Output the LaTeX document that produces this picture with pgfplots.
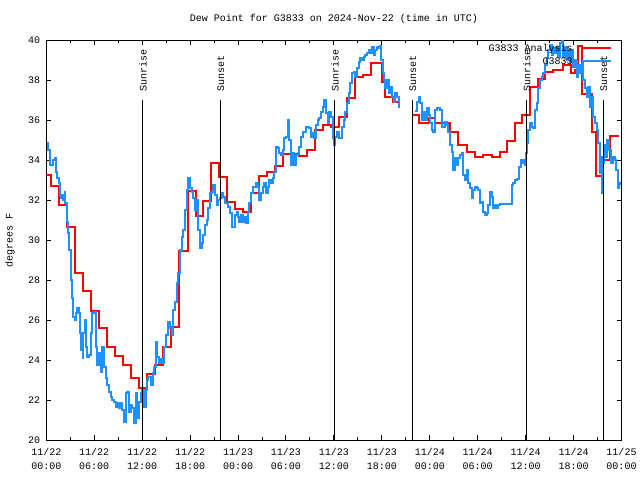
\documentclass[border=0pt]{standalone}
\usepackage{fontspec}
\setmainfont{Liberation Mono}
\usepackage{pgfplots}
\pgfplotsset{compat=1.18}
\usetikzlibrary{backgrounds}
\definecolor{obsblue}{RGB}{30,144,255}
\definecolor{anared}{RGB}{255,0,0}
\begin{document}
\begin{tikzpicture}[font=\fontsize{7.5}{10.5}\selectfont]
\begin{axis}[name=ax, scale only axis, width=431.4pt, height=300pt,
 xmin=0, xmax=72, ymin=20, ymax=40,
 xtick={0,6,...,72},
 xticklabels={{11/22\\00:00},{11/22\\06:00},{11/22\\12:00},{11/22\\18:00},{11/23\\00:00},{11/23\\06:00},{11/23\\12:00},{11/23\\18:00},{11/24\\00:00},{11/24\\06:00},{11/24\\12:00},{11/24\\18:00},{11/25\\00:00}},
 minor x tick num=1,
 ytick={20,22,...,40},
 tick align=inside, major tick length=3.75pt, minor tick length=2.25pt,
 axis line style={line width=0.75pt},
 tick style={black, line width=0.75pt},
 /pgf/number format/assume math mode=true,
 xticklabel style={align=center, inner sep=0pt, anchor=north, yshift=-6pt},
 yticklabel style={inner sep=0pt, anchor=east, xshift=-4.5pt},
 legend cell align=right,
 legend plot pos=right,
 legend style={at={(1,1)}, anchor=north east, xshift=-7.2pt, yshift=-3pt, draw=none, fill=none, inner sep=0pt,
   column sep=6.6pt, row sep=3.5pt,
   nodes={inner sep=0pt, text height=5.25pt, text depth=1.5pt}},
 legend image code/.code={\draw[#1] (0pt,0.9pt) -- (21.2pt,0.9pt);},
 every axis plot/.append style={line width=1.5pt},
]
\addplot[anared, const plot mark left] coordinates {(0,33.27)(0.55,32.69)(1.59,31.73)(2.59,30.63)(3.59,28.33)(4.59,27.43)(5.59,26.43)(6.59,25.58)(7.59,24.63)(8.59,24.18)(9.59,23.73)(10.59,23.10)(11.6,22.58)(12.6,23.28)(13.6,23.73)(14.6,24.63)(15.6,25.63)(16.6,29.43)(17.7,32.43)(18.8,31.18)(19.6,31.93)(20.6,33.83)(21.6,33.13)(22.6,31.88)(23.6,31.55)(24.6,31.42)(25.6,32.33)(26.6,33.2)(27.6,33.38)(28.6,33.72)(29.6,34.28)(31.6,34.2)(32.6,34.5)(33.6,35.5)(34.6,35.75)(35.6,35.63)(36.6,36.17)(37.6,37.08)(38.6,38.17)(39.6,38.25)(40.6,38.87)(41.97,37.9)(42.4,37.17)(43.45,36.9)(44.14,36.8)};
\addlegendentry{G3833 Analysis}
\addplot[anared, const plot mark left, forget plot] coordinates {(45.83,36.25)(46.65,35.85)(47.86,36.1)(48.65,35.83)(50.53,35.38)(51.57,34.75)(52.62,34.42)(53.66,34.13)(54.7,34.23)(55.75,34.13)(56.79,34.42)(57.7,34.97)(58.66,35.83)(59.58,36.25)(60.54,37.67)(61.54,38.03)(62.42,38.4)(63.42,38.5)(64.67,38.75)(65.67,38.33)(66.17,38.5)(66.6,39.7)(67.04,37.28)(68.29,35.4)(68.79,33.2)(69.54,34.0)(70.54,35.2)(71.67,35.2)};
\addplot[obsblue, const plot mark left] coordinates {(0.05,34.83)(0.21,34.5)(0.46,33.75)(0.75,33.75)(0.88,34.0)(1.05,34.08)(1.18,33.42)(1.38,33.08)(1.59,32.83)(1.71,32.25)(1.88,32.08)(2.05,32.25)(2.13,32.0)(2.30,32.42)(2.38,31.83)(2.55,30.92)(2.72,30.33)(2.84,29.5)(3.05,28.0)(3.25,27.08)(3.38,26.17)(3.55,26.0)(3.72,26.33)(3.88,26.58)(4.05,26.33)(4.22,25.33)(4.38,24.5)(4.56,24.08)(4.63,25.33)(4.81,26.0)(4.93,24.67)(5.06,24.17)(5.31,24.25)(5.56,25.33)(5.76,26.33)(5.97,26.42)(6.18,24.67)(6.38,23.75)(6.60,24.33)(6.81,23.38)(7.01,24.67)(7.22,23.67)(7.43,23.08)(7.63,22.75)(7.85,22.42)(8.06,22.17)(8.26,22.0)(8.47,21.92)(8.69,21.67)(8.89,21.83)(9.10,21.58)(9.31,21.83)(9.51,21.5)(9.72,20.92)(9.94,22.33)(10.14,22.42)(10.35,21.42)(10.56,21.75)(10.76,21.58)(10.98,20.83)(11.19,22.33)(11.39,21.08)(11.60,21.92)(11.81,22.33)(12.01,22.5)(12.23,21.67)(12.44,22.5)(12.64,23.0)(12.77,23.17)(13.07,22.75)(13.32,23.33)(13.48,23.67)(13.73,24.92)(13.89,24.17)(14.14,23.83)(14.32,24.03)(14.57,23.83)(14.73,24.67)(14.98,25.25)(15.27,25.92)(15.48,25.58)(15.69,25.25)(15.89,26.5)(16.11,26.92)(16.32,27.83)(16.52,28.33)(16.73,29.5)(16.95,30.17)(17.15,30.5)(17.36,31.5)(17.57,32.5)(17.77,33.08)(17.98,32.58)(18.2,32.42)(18.4,32.08)(18.61,31.5)(18.82,32.0)(19.02,30.5)(19.24,29.58)(19.45,29.83)(19.65,30.25)(19.86,30.75)(20.08,31.0)(20.28,31.58)(20.49,32.33)(20.7,32.42)(20.9,32.75)(21.11,32.25)(21.33,31.75)(21.53,32.0)(21.74,32.08)(21.95,32.33)(22.15,32.17)(22.37,31.83)(22.58,31.83)(22.78,31.67)(22.99,31.33)(23.2,30.67)(23.4,30.67)(23.62,31.25)(23.83,31.4)(23.99,31.17)(24.16,30.92)(24.37,31.25)(24.58,30.92)(24.78,31.17)(24.99,30.83)(25.21,31.42)(25.41,31.83)(25.62,32.33)(25.83,32.67)(26.03,32.67)(26.25,32.83)(26.46,32.67)(26.66,32.0)(26.87,32.33)(27.08,32.67)(27.28,32.83)(27.5,32.33)(27.71,32.67)(27.91,33.0)(28.12,32.83)(28.34,33.08)(28.54,33.42)(28.75,34.67)(28.96,34.58)(29.16,34.33)(29.37,34.25)(29.59,34.5)(29.79,35.08)(30.0,35.17)(30.21,36.0)(30.41,35.0)(30.63,33.75)(30.84,34.33)(31.04,33.75)(31.25,34.25)(31.46,34.33)(31.66,34.67)(31.88,35.17)(32.09,35.42)(32.5,35.63)(32.92,35.58)(33.13,35.17)(33.34,35.33)(33.54,35.08)(33.75,35.75)(33.97,36.0)(34.17,36.08)(34.38,36.42)(34.59,36.67)(34.79,37.0)(35.01,36.33)(35.22,35.83)(35.42,36.42)(35.63,36.17)(35.85,35.67)(35.92,35.08)(36.04,34.75)(36.17,35.17)(36.38,35.42)(36.6,35.08)(37.01,35.67)(37.22,36.0)(37.42,36.42)(37.63,36.83)(37.85,37.33)(38.05,37.83)(38.26,38.33)(38.47,38.42)(38.67,38.17)(38.89,38.58)(39.1,38.92)(39.3,39.08)(39.51,39.0)(39.72,39.17)(39.92,39.25)(40.14,39.33)(40.35,39.5)(40.55,39.33)(40.76,39.67)(40.98,39.25)(41.18,39.5)(41.39,39.67)(41.6,39.58)(41.8,39.7)(41.93,39.0)(42.1,38.33)(42.26,38.0)(42.43,37.58)(42.64,38.0)(42.85,37.33)(43.05,37.67)(43.27,37.17)(43.48,36.92)(43.68,37.33)(43.89,37.17)(44.1,36.58)};
\addlegendentry{G3833}
\addplot[obsblue, const plot mark left, forget plot] coordinates {(46.18,36.45)(46.4,36.92)(46.61,37.17)(46.81,36.83)(47.02,36.0)(47.23,36.42)(47.43,36.0)(47.65,36.58)(47.86,36.25)(48.06,35.83)(48.27,35.5)(48.44,35.42)(48.65,36.5)(48.86,36.58)(49.27,36.5)(49.48,35.67)(49.68,35.67)(49.9,35.92)(50.11,35.75)(50.31,35.42)(50.53,34.75)(50.74,34.42)(50.94,33.5)(51.15,34.08)(51.36,33.75)(51.56,34.08)(51.78,34.25)(51.99,34.33)(52.19,33.25)(52.4,33.0)(52.62,33.5)(52.82,32.83)(53.03,32.58)(53.24,32.08)(53.44,32.5)(53.65,32.67)(53.87,32.58)(54.07,32.5)(54.28,31.83)(54.49,31.92)(54.69,31.42)(54.9,31.25)(55.12,31.33)(55.32,31.75)(55.53,32.42)(55.74,32.17)(55.94,31.58)(56.16,31.75)(56.37,31.58)(56.57,31.75)(56.78,31.8)(58.03,31.8)(58.24,32.75)(58.44,32.83)(58.66,33.0)(58.95,33.03)(59.2,33.67)(59.37,34.0)(59.54,33.83)(59.7,34.0)(59.91,33.75)(60.04,34.33)(60.12,34.83)(60.33,35.5)(60.54,35.83)(60.75,35.67)(60.95,35.58)(61.16,36.5)(61.38,36.83)(61.58,37.58)(61.79,38.0)(62.0,38.17)(62.2,38.33)(62.41,38.75)(62.63,39.08)(62.83,39.5)(63.04,39.75)(63.25,39.25)(63.45,39.58)(63.67,39.33)(63.88,39.67)(64.08,39.17)(64.29,39.83)(64.5,40.2)(64.71,39.17)(64.92,39.67)(65.13,39.0)(65.33,39.5)(65.54,38.92)(65.76,39.5)(65.96,38.67)(66.17,39.0)(66.38,38.17)(66.58,38.75)(66.8,38.33)(67.01,38.83)(67.21,38.0)(67.42,37.58)(67.63,37.17)(67.83,37.67)(68.05,36.67)(68.26,37.17)(68.46,36.17)(68.67,35.83)(68.88,35.5)(69.08,34.83)(69.3,33.33)(69.42,34.17)(69.51,32.33)(69.64,33.83)(69.8,34.75)(70.05,34.17)(70.22,35.0)(70.47,34.5)(70.65,33.83)(70.9,34.17)(71.2,34.0)(71.33,33.5)(71.52,32.58)(71.65,32.83)(71.87,32.75)};
% sunrise / sunset markers
\draw[black, line width=0.75pt] (axis cs:12.02,20) -- (axis cs:12.02,37);
\draw[black, line width=0.75pt] (axis cs:21.78,20) -- (axis cs:21.78,37);
\draw[black, line width=0.75pt] (axis cs:36.05,20) -- (axis cs:36.05,37);
\draw[black, line width=0.75pt] (axis cs:45.81,20) -- (axis cs:45.81,37);
\draw[black, line width=0.75pt] (axis cs:60.08,20) -- (axis cs:60.08,37);
\draw[black, line width=0.75pt] (axis cs:69.71,20) -- (axis cs:69.71,37);
\node[rotate=90, anchor=west, inner sep=0pt] at (axis cs:12.10,37.4) {Sunrise};
\node[rotate=90, anchor=west, inner sep=0pt] at (axis cs:21.86,37.4) {Sunset};
\node[rotate=90, anchor=west, inner sep=0pt] at (axis cs:36.13,37.4) {Sunrise};
\node[rotate=90, anchor=west, inner sep=0pt] at (axis cs:45.89,37.4) {Sunset};
\node[rotate=90, anchor=west, inner sep=0pt] at (axis cs:60.16,37.4) {Sunrise};
\node[rotate=90, anchor=west, inner sep=0pt] at (axis cs:69.79,37.4) {Sunset};
\end{axis}
\node at ([yshift=15.75pt]ax.north) {Dew Point for G3833 on 2024-Nov-22 (time in UTC)};
\node[rotate=90] at ([xshift=-27.2pt]ax.west) {degrees F};
\pgfresetboundingbox
\path[use as bounding box] ([shift={(-34.725pt,-30pt)}]ax.south west) rectangle ([shift={(13.875pt,30pt)}]ax.north east);
\begin{scope}[on background layer]
\fill[white] ([shift={(-34.725pt,-30pt)}]ax.south west) rectangle ([shift={(13.875pt,30pt)}]ax.north east);
\end{scope}
\end{tikzpicture}
\end{document}
